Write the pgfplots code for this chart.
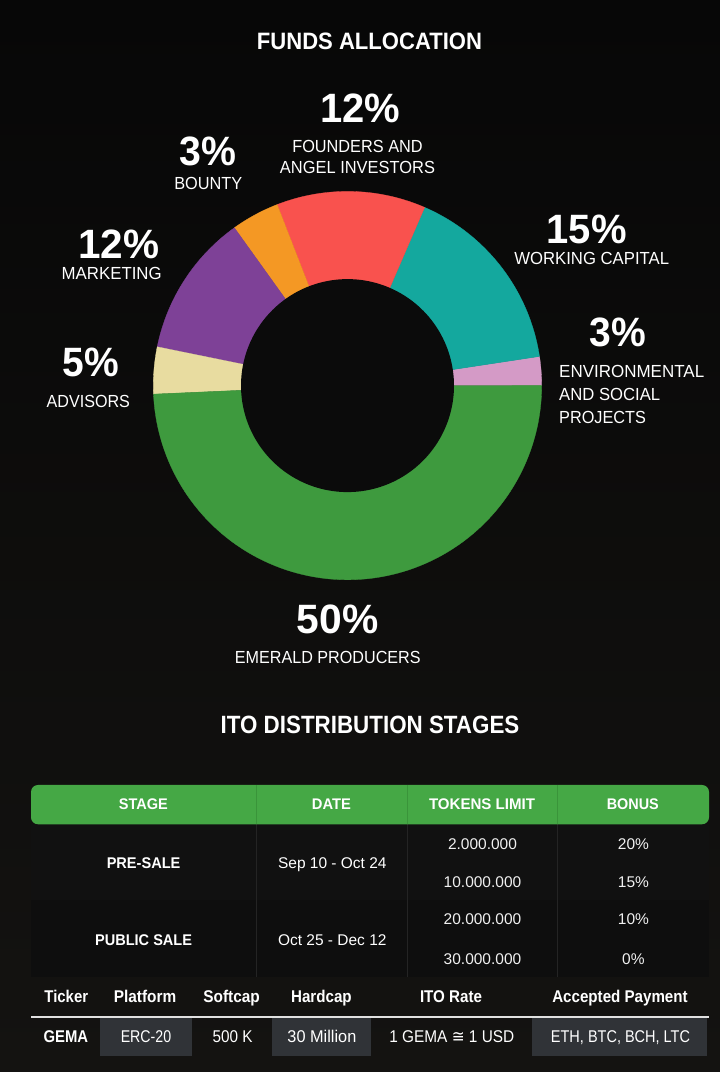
\documentclass[border=0pt]{standalone}
\usepackage{graphicx}
\usepackage{pgfplots}
\pgfplotsset{compat=1.18}
\usepackage{fontspec}
\setmainfont{Liberation Sans}
\newfontfamily\symfont{DejaVu Sans}

\definecolor{cpink}{RGB}{212,154,198}
\definecolor{cteal}{RGB}{20,168,158}
\definecolor{cred}{RGB}{249,82,78}
\definecolor{corange}{RGB}{244,152,36}
\definecolor{cpurple}{RGB}{126,65,151}
\definecolor{cbeige}{RGB}{232,220,160}
\definecolor{cgreen}{RGB}{62,154,62}
\definecolor{holec}{RGB}{11,11,11}
\definecolor{hdrgreen}{RGB}{69,168,69}
\definecolor{hdrline}{RGB}{58,148,58}
\definecolor{bgtop}{RGB}{7,7,7}
\definecolor{bgbot}{RGB}{20,19,17}
\definecolor{rowa}{RGB}{17,17,17}
\definecolor{rowb}{RGB}{14,14,14}
\definecolor{divc}{RGB}{36,36,36}
\definecolor{cellc}{RGB}{48,51,55}
\definecolor{txt}{RGB}{240,240,240}

% x, baseline y (from top), width, size, text
\newcommand\lab[5]{\node[anchor=base,inner sep=0pt,text=white] at (#1,1072-#2) {\resizebox{#3bp}{\height}{\fontsize{#4bp}{#4bp}\selectfont #5}};}
\newcommand\labn[4]{\node[anchor=base,inner sep=0pt,text=txt] at (#1,1072-#2) {\fontsize{#3bp}{#3bp}\selectfont #4};}

\begin{document}
\begin{tikzpicture}[x=1bp,y=1bp]
\shade[top color=bgtop,bottom color=bgbot] (0,0) rectangle (720,1072);

\begin{axis}[at={(347.5,686.4)},anchor=center,x=1bp,y=1bp,
  xmin=-200,xmax=200,ymin=-200,ymax=200,hide axis,clip=false]
% shares (percent) of the drawn sectors, counter-clockwise from 0 degrees
\addplot[fill=cpink,draw=cpink,line width=0.3pt,domain={3.6*0}:{3.6*2.4},samples=20,variable=\t]
  ({194.2*cos(\t)},{194.2*sin(\t)}) -- (0,0) -- cycle;
\addplot[fill=cteal,draw=cteal,line width=0.3pt,domain={3.6*2.4}:{3.6*(2.4+16.1)},samples=60,variable=\t]
  ({194.2*cos(\t)},{194.2*sin(\t)}) -- (0,0) -- cycle;
\addplot[fill=cred,draw=cred,line width=0.3pt,domain={3.6*(2.4+16.1)}:{3.6*(2.4+16.1+12.4)},samples=50,variable=\t]
  ({194.2*cos(\t)},{194.2*sin(\t)}) -- (0,0) -- cycle;
\addplot[fill=corange,draw=corange,line width=0.3pt,domain={3.6*(30.9)}:{3.6*(30.9+4.0)},samples=20,variable=\t]
  ({194.2*cos(\t)},{194.2*sin(\t)}) -- (0,0) -- cycle;
\addplot[fill=cpurple,draw=cpurple,line width=0.3pt,domain={3.6*(34.9)}:{3.6*(34.9+11.9)},samples=50,variable=\t]
  ({194.2*cos(\t)},{194.2*sin(\t)}) -- (0,0) -- cycle;
\addplot[fill=cbeige,draw=cbeige,line width=0.3pt,domain={3.6*(46.8)}:{3.6*(46.8+3.9)},samples=20,variable=\t]
  ({194.2*cos(\t)},{194.2*sin(\t)}) -- (0,0) -- cycle;
\addplot[fill=cgreen,draw=cgreen,line width=0.3pt,domain={3.6*(50.7)}:{3.6*(50.7+49.3)},samples=150,variable=\t]
  ({194.2*cos(\t)},{194.2*sin(\t)}) -- (0,0) -- cycle;
\addplot[fill=holec,draw=none,domain=0:360,samples=180,variable=\t]
  ({106.5*cos(\t)},{106.5*sin(\t)}) -- cycle;
\end{axis}

% titles
\lab{369.5}{49.3}{225}{23.7}{\bfseries FUNDS ALLOCATION}
\lab{370}{734}{298.7}{25}{\bfseries ITO DISTRIBUTION STAGES}

% donut labels
\lab{360}{122.7}{80}{41}{\bfseries 12\%}
\lab{357.5}{152.7}{130.4}{17.5}{FOUNDERS AND}
\lab{357.5}{173.3}{155}{17.5}{ANGEL INVESTORS}
\lab{207.7}{166}{56.7}{41}{\bfseries 3\%}
\lab{208.3}{190}{68}{17.5}{BOUNTY}
\lab{118.8}{258.3}{81}{41}{\bfseries 12\%}
\lab{111.7}{280}{100}{17.5}{MARKETING}
\lab{586.7}{243.3}{80}{41}{\bfseries 15\%}
\lab{591.7}{265}{154.7}{17.5}{WORKING CAPITAL}
\lab{617.5}{346.7}{56.4}{41}{\bfseries 3\%}
\node[anchor=base west,inner sep=0pt,text=white] at (559,1072-377.7) {\resizebox{145bp}{\height}{\fontsize{17.5bp}{17.5bp}\selectfont ENVIRONMENTAL}};
\node[anchor=base west,inner sep=0pt,text=white] at (559,1072-401) {\resizebox{101bp}{\height}{\fontsize{17.5bp}{17.5bp}\selectfont AND SOCIAL}};
\node[anchor=base west,inner sep=0pt,text=white] at (559,1072-423.3) {\resizebox{86.7bp}{\height}{\fontsize{17.5bp}{17.5bp}\selectfont PROJECTS}};
\lab{90.8}{376.7}{56.3}{41}{\bfseries 5\%}
\lab{88.3}{407.7}{83.3}{17.5}{ADVISORS}
\lab{337.5}{633.3}{81.6}{41}{\bfseries 50\%}
\lab{327.8}{664}{185.7}{17.5}{EMERALD PRODUCERS}

% stages table
\fill[rowa] (31,1072-900) rectangle (709,1072-824);
\fill[rowb] (31,1072-977) rectangle (709,1072-900);
\foreach \xx in {256.4,407.3,557.8}{\draw[divc,line width=1bp] (\xx,1072-977) -- (\xx,1072-824);}
\fill[hdrgreen,rounded corners=7bp] (31,1072-824.3) rectangle (709,1072-785);
\foreach \xx in {256.4,407.3,557.8}{\draw[hdrline,line width=1bp] (\xx,1072-824.3) -- (\xx,1072-785);}
\lab{143.4}{810}{49}{15.4}{\bfseries STAGE}
\lab{331.4}{810}{39}{15.4}{\bfseries DATE}
\lab{482}{810}{106}{15.4}{\bfseries TOKENS LIMIT}
\lab{632.8}{810}{52}{15.4}{\bfseries BONUS}
\lab{143.6}{868.3}{73.7}{15.5}{\bfseries PRE-SALE}
\lab{143.6}{945.7}{97}{15.5}{\bfseries PUBLIC SALE}
\lab{332.3}{868.3}{108.4}{15.5}{Sep 10 - Oct 24}
\lab{332.3}{945.7}{108.4}{15.5}{Oct 25 - Dec 12}
\labn{482.5}{849.3}{15.5}{2.000.000}
\labn{482.5}{887.3}{15.5}{10.000.000}
\labn{482.5}{925}{15.5}{20.000.000}
\labn{482.5}{964.3}{15.5}{30.000.000}
\labn{633.4}{849.3}{15.5}{20\%}
\labn{633.4}{887.3}{15.5}{15\%}
\labn{633.4}{925}{15.5}{10\%}
\labn{633.4}{964.3}{15.5}{0\%}

% token info table
\lab{66.3}{1002.3}{43.7}{17}{\bfseries Ticker}
\lab{145}{1002.3}{62.4}{17}{\bfseries Platform}
\lab{231.6}{1002.3}{56.5}{17}{\bfseries Softcap}
\lab{321.4}{1002.3}{60.6}{17}{\bfseries Hardcap}
\lab{451}{1002.3}{62}{17}{\bfseries ITO Rate}
\lab{620}{1002.3}{135.4}{17}{\bfseries Accepted Payment}
\draw[white!88!black,line width=1.8bp] (31.2,1072-1016.7) -- (709.4,1072-1016.7);
\fill[cellc] (100,1072-1056) rectangle (191.5,1072-1018.3);
\fill[cellc] (271.8,1072-1056) rectangle (371,1072-1018.3);
\fill[cellc] (531.7,1072-1056) rectangle (707,1072-1018.3);
\lab{65.9}{1042.7}{44.5}{17}{\bfseries GEMA}
\lab{146}{1042.7}{50.5}{17}{ERC-20}
\lab{232.5}{1042.7}{40}{17}{500 K}
\lab{321.9}{1042.7}{68.9}{17}{30 Million}
\lab{451.8}{1042.7}{124.9}{17}{1 GEMA {\symfont ≅} 1 USD}
\lab{620.5}{1042.7}{139.1}{17}{ETH, BTC, BCH, LTC}
\end{tikzpicture}
\end{document}
